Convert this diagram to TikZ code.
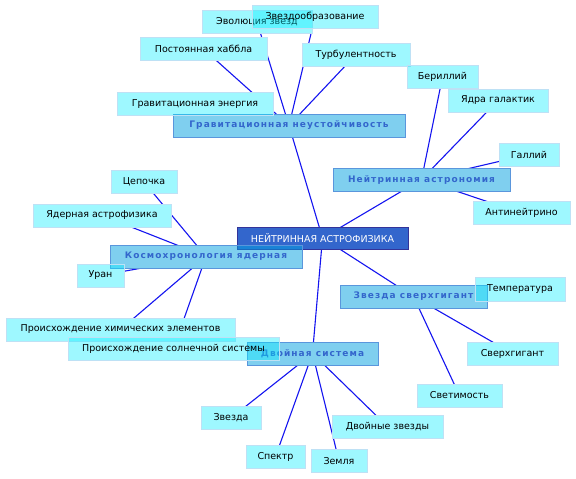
\documentclass[tikz,border=0pt]{standalone}
\usepackage{fontspec}
\setmainfont{DejaVu Sans}
\newfontfamily\topicfont[LetterSpace=12]{DejaVu Sans}

\definecolor{coreblue}{RGB}{51,102,204}
\definecolor{coreline}{RGB}{51,51,153}
\definecolor{topicfill}{RGB}{0,160,225}
\definecolor{topicline}{RGB}{90,150,220}
\definecolor{topictext}{RGB}{51,102,204}
\definecolor{leaffill}{RGB}{0,238,255}
\definecolor{leafline}{RGB}{190,225,245}
\definecolor{linkblue}{RGB}{20,20,240}

\pgfdeclarelayer{edges}
\pgfdeclarelayer{blank}
\pgfsetlayers{edges,blank,main}

\begin{document}
\begin{tikzpicture}[
	x=1pt, y=-1pt,
	core/.style={rectangle, draw=coreline, fill=coreblue, text=white, minimum width=171pt, minimum height=22pt, inner sep=0pt, font=\fontsize{9.5}{11}\selectfont},
	topic/.style={rectangle, draw=topicline, fill=topicfill, fill opacity=0.5, text opacity=1, text=topictext, minimum height=23pt, inner sep=0pt, font=\topicfont\bfseries\fontsize{9}{11}\selectfont},
	leaf/.style={rectangle, draw=leafline, fill=leaffill, fill opacity=0.38, text opacity=1, minimum height=23pt, inner sep=0pt, font=\fontsize{9.5}{11}\selectfont},
	link/.style={linkblue, line width=1.1pt},
]
	\useasboundingbox (0,0) rectangle (576,479);

	% Centre
	\node[core] (cen) at (322.5,238) {НЕЙТРИННАЯ АСТРОФИЗИКА};

	% Topics
	\node[topic, minimum width=232pt] (grav) at (289,125.5) {Гравитационная неустойчивость};
	\node[topic, minimum width=177pt] (neut) at (421.5,179.5) {Нейтринная астрономия};
	\node[topic, minimum width=192pt] (cosmo) at (206,256.5) {Космохронология ядерная};
	\node[topic, minimum width=147pt] (super) at (413.5,296.5) {Звезда сверхгигант};
	\node[topic, minimum width=131pt] (binary) at (312.5,353.5) {Двойная система};

	% Gravitational instability (top)
	\node[leaf, minimum width=110pt] (evol) at (257,22) {Эволюция звезд};
	\node[leaf, minimum width=126pt] (form) at (315,17) {Звездообразование};
	\node[leaf, minimum width=127pt] (hubble) at (203.5,49) {Постоянная хаббла};
	\node[leaf, minimum width=108pt] (turb) at (356,54.5) {Турбулентность};
	\node[leaf, minimum width=156pt] (genergy) at (195,104) {Гравитационная энергия};

	% Neutrino astronomy (right)
	\node[leaf, minimum width=71pt] (beryl) at (442.5,77) {Бериллий};
	\node[leaf, minimum width=100pt] (nuclei) at (498,100.5) {Ядра галактик};
	\node[leaf, minimum width=60pt] (gallium) at (529,154.5) {Галлий};
	\node[leaf, minimum width=97pt] (antinu) at (521.5,213) {Антинейтрино};

	% Nuclear cosmochronology (left)
	\node[leaf, minimum width=66pt] (chain) at (144,182) {Цепочка};
	\node[leaf, minimum width=138pt] (nastro) at (102,215.5) {Ядерная астрофизика};
	\node[leaf, minimum width=47pt] (uran) at (100.5,275.5) {Уран};
	\node[leaf, minimum width=229pt] (chem) at (120.5,329.5) {Происхождение химических элементов};
	\node[leaf, minimum width=211pt] (solar) at (173.5,348.5) {Происхождение солнечной системы};

	% Supergiant star
	\node[leaf, minimum width=90pt, minimum height=24pt] (temp) at (520,289) {Температура};
	\node[leaf, minimum width=91pt] (sgiant) at (512.5,353.5) {Сверхгигант};
	\node[leaf, minimum width=85pt] (lum) at (459.5,395.5) {Светимость};

	% Binary system (bottom)
	\node[leaf, minimum width=111pt] (bstars) at (387.5,426.5) {Двойные звезды};
	\node[leaf, minimum width=60pt] (star) at (231,418) {Звезда};
	\node[leaf, minimum width=59pt] (spec) at (275.5,456.5) {Спектр};
	\node[leaf, minimum width=56pt] (earth) at (339,461) {Земля};

	% white under every box, so the links stop at the borders
	\begin{pgfonlayer}{blank}
		\foreach \n in {cen,grav,neut,cosmo,super,binary,evol,form,hubble,turb,genergy,beryl,nuclei,gallium,antinu,chain,nastro,uran,chem,solar,temp,sgiant,lum,bstars,star,spec,earth}
			\fill[white] (\n.south west) rectangle (\n.north east);
	\end{pgfonlayer}

	% Links, centre to centre
	\begin{pgfonlayer}{edges}
		\fill[white] (0,0) rectangle (576,479);
		\foreach \a/\b in {cen/grav,cen/neut,cen/cosmo,cen/super,cen/binary,
			grav/evol,grav/form,grav/hubble,grav/turb,grav/genergy,
			neut/beryl,neut/nuclei,neut/gallium,neut/antinu,
			cosmo/chain,cosmo/nastro,cosmo/uran,cosmo/chem,cosmo/solar,
			super/temp,super/sgiant,super/lum,
			binary/bstars,binary/star,binary/spec,binary/earth}
			\draw[link] (\a.center) -- (\b.center);
	\end{pgfonlayer}

\end{tikzpicture}
\end{document}
